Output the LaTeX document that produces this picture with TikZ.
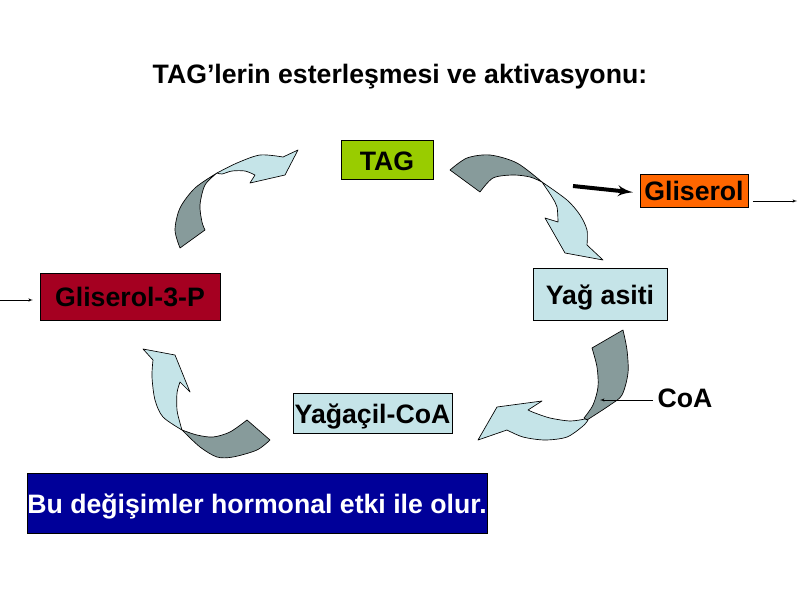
\documentclass[tikz,border=0pt]{standalone}
\usepackage{fontspec}
\setmainfont{Liberation Sans}
\usepackage{tikz}
\usetikzlibrary{shapes, arrows, positioning}
\definecolor{tagyesil}{RGB}{153,204,0}
\definecolor{turuncu}{RGB}{255,102,0}
\definecolor{bordo}{RGB}{165,0,33}
\definecolor{acikmavi}{RGB}{197,228,232}
\definecolor{koyugri}{RGB}{135,155,155}
\definecolor{lacivert}{RGB}{0,0,153}
\tikzstyle{->}   = [draw, -latex']
\tikzstyle{kutu} = [draw, line width=0.8pt, inner sep=0pt, text height=23pt, text depth=5pt, font=\fontsize{24}{28}\selectfont\bfseries]
\tikzstyle{yazi} = [inner sep=0pt, font=\fontsize{24}{28}\selectfont\bfseries]
\tikzstyle{koyu} = [fill=koyugri, draw=black, line width=0.6pt, line join=round]
\tikzstyle{acik} = [fill=acikmavi, draw=black, line width=0.6pt, line join=round]

\begin{document}
\begin{tikzpicture}[x=0.9pt, y=-0.9pt]
\useasboundingbox (0,0) rectangle (800,600);

% curved arrows
\filldraw [koyu] (180,248) -- plot [smooth] coordinates {(180,248) (175,230) (180,208) (195,188) (217,173)}
                 -- plot [smooth] coordinates {(217,173) (205,185) (200,205) (202,222) (205,230)} -- cycle;
\filldraw [acik] (217,173) -- plot [smooth] coordinates {(217,173) (237,163) (260,155) (283,157)}
                 -- (298,150) -- (285,175) -- (250,183) -- (255,175)
                 -- plot [smooth] coordinates {(255,175) (245,171) (232,171) (222,174) (217,173)} -- cycle;

\filldraw [koyu] (450,170) -- plot [smooth] coordinates {(450,170) (467,158) (490,155) (517,163) (542,182)}
                 -- plot [smooth] coordinates {(542,182) (530,177) (513,175) (493,178) (480,192)} -- cycle;
\filldraw [acik] (542,182) -- plot [smooth] coordinates {(542,182) (567,200) (580,215) (587,230) (587,245)}
                 -- (603,260) -- (565,253) -- (545,218) -- (558,222)
                 -- plot [smooth] coordinates {(558,222) (557,207) (552,197) (542,182)} -- cycle;

\filldraw [koyu] (592,348) -- (623,330)
                 -- plot [smooth] coordinates {(623,330) (627,350) (628,373) (622,395) (610,405) (587,420)}
                 -- plot [smooth] coordinates {(584,418) (593,405) (598,387) (597,367) (592,348)} -- cycle;
\filldraw [acik] (585,419) -- plot [smooth] coordinates {(585,419) (570,421) (550,418) (535,413) (528,410)}
                 -- (542,401) -- (497,407) -- (478,440) -- (507,430)
                 -- plot [smooth] coordinates {(507,430) (523,437) (545,440) (567,437) (583,426) (588,420)} -- cycle;

\filldraw [acik] (143,349) -- (175,355) -- (190,392) -- (180,382)
                 -- plot [smooth] coordinates {(180,382) (177,393) (177,410) (180,423) (182,430)}
                 -- plot [smooth] coordinates {(182,430) (163,417) (155,400) (152,377) (153,360)} -- cycle;
\filldraw [koyu] (182,430) -- plot [smooth] coordinates {(182,430) (197,435) (213,437) (230,432) (247,420)}
                 -- (270,440)
                 -- plot [smooth] coordinates {(270,440) (257,450) (233,457) (217,457) (200,447) (182,430)} -- cycle;

% nodes
\node [yazi]                                                           at (400, 77)   (baslik)   {TAG’lerin esterleşmesi ve aktivasyonu:};
\node [kutu, fill=tagyesil, minimum width=82.8pt,  minimum height=35.1pt] at (387, 160)   (tag)      {TAG};
\node [kutu, fill=turuncu,  minimum width=97.2pt,  minimum height=29.7pt] at (694, 190.5) (gliserol) {Gliserol};
\node [kutu, fill=acikmavi, minimum width=120.6pt, minimum height=46.8pt] at (600, 294)   (yagasit)  {Yağ asiti};
\node [kutu, fill=bordo,    minimum width=162pt,   minimum height=42.3pt] at (130, 296.5) (g3p)      {Gliserol-3-P};
\node [kutu, fill=acikmavi, minimum width=143.1pt, minimum height=36pt]   at (372.5, 413) (acilcoa)  {Yağaçil-CoA};
\node [kutu, fill=lacivert, text=white, minimum width=414pt, minimum height=54pt] at (257, 503) (not) {Bu değişimler hormonal etki ile olur.};
\node [yazi]                                                           at (685, 398)  (coa)      {CoA};

\coordinate (g3pgiris)  at (0, 300);
\coordinate (glcikis)   at (797, 201);
\coordinate (tagcikis)  at (573, 186);
\coordinate (coaucu)    at (600, 400);

% edges
\path (g3pgiris)                edge [->, shorten >=6pt]                 (g3p.west |- g3pgiris)
      (gliserol.east |- glcikis) edge [->, shorten <=4pt]                 (glcikis)
      (tagcikis)                edge [->, line width=3.6pt, shorten >=6pt] (gliserol.west |- 0,193)
      (coa.west |- coaucu)      edge [->, shorten <=4pt]                 (coaucu);

\end{tikzpicture}
\end{document}
